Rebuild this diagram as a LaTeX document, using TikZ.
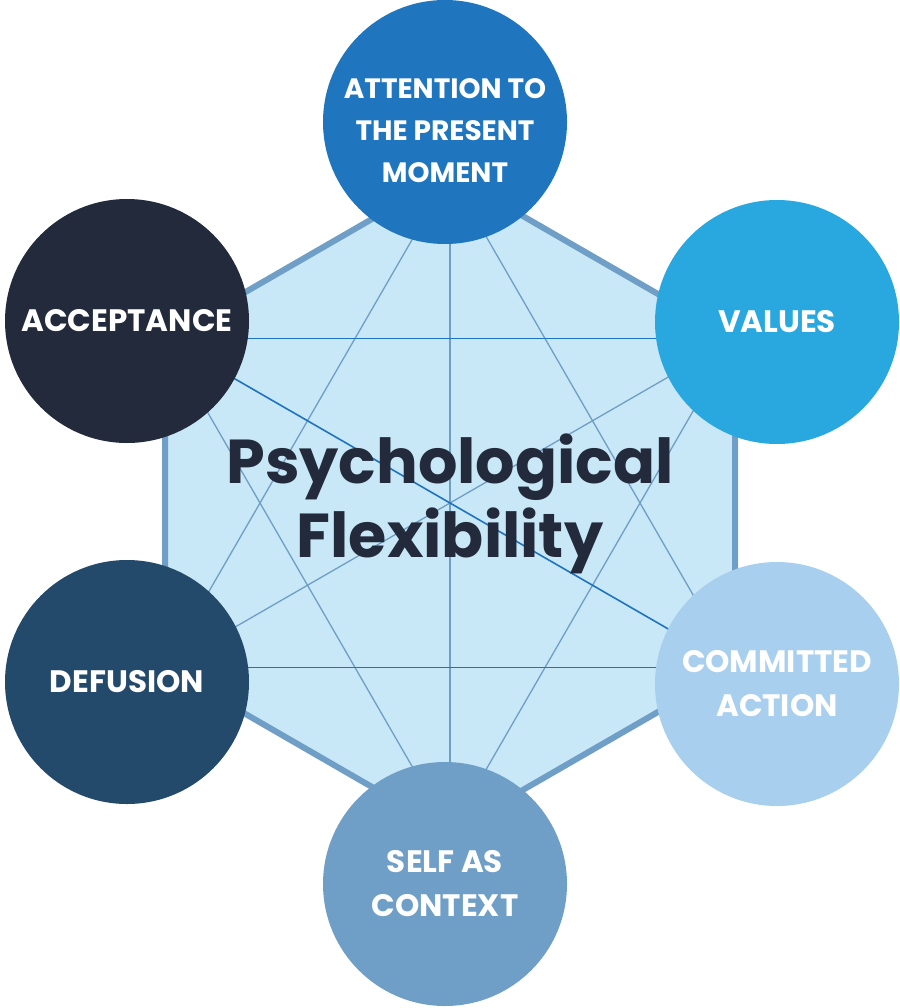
\documentclass[tikz,border=0pt]{standalone}
\usepackage{fontspec}
\setmainfont{Poppins}[BoldFont={* Bold},UprightFont={* Medium}]
\definecolor{hexfill}{HTML}{C8E8F7}
\definecolor{hexedge}{HTML}{6F9EC6}
\definecolor{darkline}{HTML}{1F73BF}
\definecolor{navy}{HTML}{222A3B}
\definecolor{cTop}{HTML}{1F75BE}
\definecolor{cVal}{HTML}{29A8E0}
\definecolor{cCom}{HTML}{A8CFEE}
\definecolor{cSelf}{HTML}{6F9EC6}
\definecolor{cDef}{HTML}{244A6B}
\definecolor{cAcc}{HTML}{222A3B}
\begin{document}
\begin{tikzpicture}[x=1pt,y=-1pt,
  bubble/.style={circle,minimum size=244pt,inner sep=0pt,text=white,align=center,
    font=\bfseries\fontsize{31}{44}\selectfont},
  thinline/.style={draw=hexedge,line width=1.3pt},
  boldline/.style={draw=darkline,line width=1.6pt}]
\useasboundingbox (0,0) rectangle (899,1008);
\coordinate (T) at (450,174);
\coordinate (UR) at (735,338.5);
\coordinate (LR) at (735,667.5);
\coordinate (B) at (450,832);
\coordinate (LL) at (165,667.5);
\coordinate (UL) at (165,338.5);
\fill[hexfill] (T) -- (UR) -- (LR) -- (B) -- (LL) -- (UL) -- cycle;
\draw[thinline] (T) -- (B);
\draw[thinline] (T) -- (LL);
\draw[thinline] (T) -- (LR);
\draw[thinline] (B) -- (UL);
\draw[thinline] (B) -- (UR);
\draw[thinline] (UR) -- (LL);
\draw[boldline] (UL) -- (LR);
\draw[boldline] (UL) -- (UR);
\draw[boldline] (LL) -- (LR);
\draw[hexedge,line width=6pt,line join=miter] (T) -- (UR) -- (LR) -- (B) -- (LL) -- (UL) -- cycle;
\node[text=navy,align=center,font=\bfseries\fontsize{62}{74}\selectfont] (title) at (450,504) {Psychological\\Flexibility};
\node[bubble,fill=cTop] (att) at (445,122) {};
\node[text=white,align=center,font=\bfseries\fontsize{28}{42}\selectfont] (attlabel) at (445,131) {ATTENTION TO\\THE PRESENT\\MOMENT};
\node[bubble,fill=cVal] (val) at (777,322) {VALUES};
\node[bubble,fill=cCom] (com) at (777,684) {COMMITTED\\ACTION};
\node[bubble,fill=cSelf] (self) at (445,884) {SELF AS\\CONTEXT};
\node[bubble,fill=cDef] (def) at (127,682) {DEFUSION};
\node[bubble,fill=cAcc] (acc) at (127,321) {ACCEPTANCE};
\end{tikzpicture}
\end{document}
